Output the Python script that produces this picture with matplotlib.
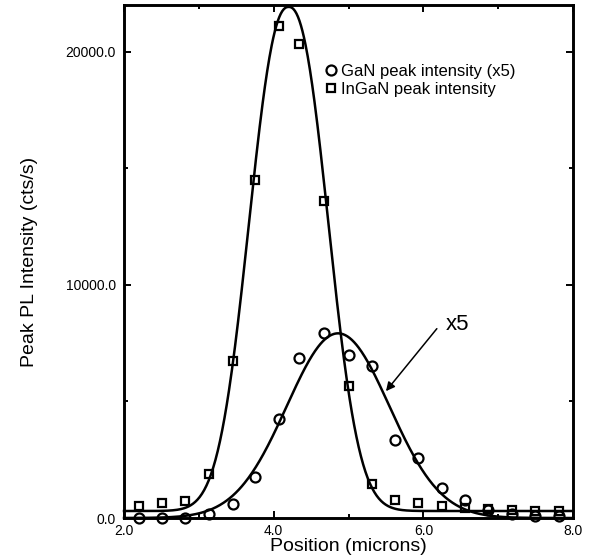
import numpy as np
import matplotlib
matplotlib.use("Agg")
import matplotlib.pyplot as plt
from matplotlib.ticker import FormatStrFormatter, MultipleLocator

plt.rcParams['font.family'] = ['Liberation Sans', 'DejaVu Sans']

# measured positions (microns)
position = [2.20, 2.51, 2.82, 3.14, 3.45, 3.75, 4.07, 4.34, 4.67, 5.00,
            5.31, 5.62, 5.93, 6.25, 6.56, 6.87, 7.19, 7.49, 7.81]

# InGaN peak intensity (cts/s)
ingan = [506, 652, 708, 1888, 6730, 14515, 21094, 20309, 13584, 5674,
         1451, 781, 652, 494, 438, 395, 322, 292, 292]

# GaN peak intensity, already scaled x5 (cts/s)
gan_x5 = [0, 0, 0, 180, 609, 1751, 4258, 6876, 7948, 7004,
          6515, 3326, 2567, 1296, 751, 322, 180, 107, 107]

# peak fit parameters: amplitude, centre, width, shape, offset
ingan_fit = (21620, 4.20, 0.505, 2.3, 300)
gan_fit = (7920, 4.86, 0.685, 2.0, 0)


def peak(x, amp, x0, w, p, off):
    return amp * np.exp(-0.5 * np.abs((x - x0) / w) ** p) + off


xs = np.linspace(2.0, 8.0, 600)

fig = plt.figure(figsize=(5.92, 5.6), dpi=100)
ax = fig.add_axes([0.2095, 0.075, 0.7585, 0.916])

ax.plot(xs, peak(xs, *ingan_fit), color='black', lw=1.8, clip_on=False)
ax.plot(xs, peak(xs, *gan_fit), color='black', lw=1.8, clip_on=False)

ax.plot(position, gan_x5, linestyle='none', marker='o', ms=7.2, mew=1.6,
        mfc='none', mec='black', clip_on=False, zorder=3,
        label='GaN peak intensity (x5)')
ax.plot(position, ingan, linestyle='none', marker='s', ms=5.6, mew=1.6,
        mfc='none', mec='black', clip_on=False, zorder=3,
        label='InGaN peak intensity')

ax.annotate('', xy=(5.50, 5440), xytext=(6.18, 8120),
            arrowprops=dict(arrowstyle='-|>', color='black', lw=1.1,
                            mutation_scale=13, shrinkA=0, shrinkB=0))
ax.text(6.30, 8050, 'x5', fontsize=16, ha='left', va='baseline')

ax.set_xlim(2.0, 8.0)
ax.set_ylim(0, 22000)
ax.xaxis.set_major_locator(MultipleLocator(2.0))
ax.xaxis.set_minor_locator(MultipleLocator(1.0))
ax.yaxis.set_major_locator(MultipleLocator(10000))
ax.yaxis.set_minor_locator(MultipleLocator(5000))
ax.xaxis.set_major_formatter(FormatStrFormatter('%.1f'))
ax.yaxis.set_major_formatter(FormatStrFormatter('%.1f'))

ax.tick_params(which='both', direction='in', top=True, right=True,
               width=1.4, labelsize=10)
ax.tick_params(axis='x', pad=4)
ax.tick_params(axis='y', pad=6)
ax.tick_params(which='major', length=5)
ax.tick_params(which='minor', length=3)
for s in ax.spines.values():
    s.set_linewidth(2.1)

ax.set_xlabel('Position (microns)', fontsize=14, labelpad=0)
ax.set_ylabel('Peak PL Intensity (cts/s)', fontsize=14, labelpad=20)

ax.legend(loc='upper left', bbox_to_anchor=(0.45, 0.885), frameon=False,
          fontsize=12, handlelength=0.6, handletextpad=0.3, borderpad=0,
          borderaxespad=0, labelspacing=0.15)

fig.savefig('out.png', dpi=100)
